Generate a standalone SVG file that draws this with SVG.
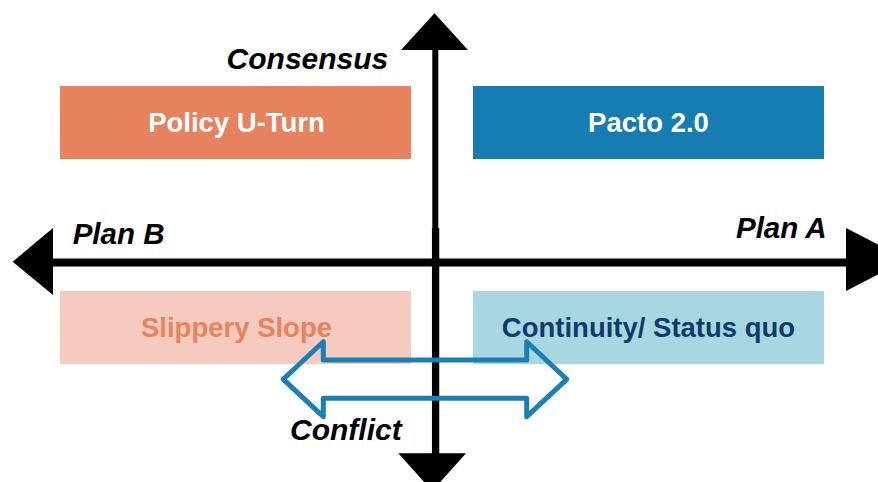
<svg xmlns="http://www.w3.org/2000/svg" width="878" height="482" viewBox="0 0 878 482">
<style>
.lbl{font-family:"Liberation Sans",Arial,sans-serif;font-weight:bold;font-size:27.5px;text-anchor:middle}
.ax{font-family:"Liberation Sans",Arial,sans-serif;font-weight:bold;font-style:italic;font-size:29.5px;fill:#000}
.axis{stroke:#000;fill:none}
.head{fill:#000}
</style>
<rect width="878" height="482" fill="#fff"/>
<g id="node-policy-uturn">
<rect x="60" y="86" width="351" height="73" fill="#E7825F"/>
<text class="lbl" x="236.5" y="132" fill="#fff">Policy U-Turn</text>
</g>
<g id="node-pacto">
<rect x="473" y="86" width="351" height="73" fill="#167DB2"/>
<text class="lbl" x="648.5" y="132" fill="#fff">Pacto 2.0</text>
</g>
<g id="node-slippery">
<rect x="60" y="291" width="351" height="73" fill="#F4CBBE"/>
<text class="lbl" x="236.5" y="337" fill="#E8825F">Slippery Slope</text>
</g>
<g id="node-continuity">
<rect x="473" y="291" width="351" height="73" fill="#A8D7E2"/>
<text class="lbl" x="648.5" y="337" fill="#0E3B6B">Continuity/ Status quo</text>
</g>
<g id="connectors">
<line class="axis" x1="50" y1="262.5" x2="850" y2="262.5" stroke-width="8"/>
<polygon class="head" points="12.7,261.7 53,228 53,295"/>
<polygon class="head" points="846,228 846,291 907,259.5"/>
<line class="axis" x1="435.3" y1="46" x2="435.3" y2="229" stroke-width="6"/>
<line class="axis" x1="435.6" y1="228" x2="435.6" y2="456" stroke-width="7.3"/>
<polygon class="head" points="434.5,13.3 401,50 468,50"/>
<polygon class="head" points="398.3,453.3 466,453.3 432.2,491"/>
<path d="M283.3,379.3 L323.3,341.7 L323.3,360 L526.7,360 L526.7,341.7 L566.7,379.3 L526.7,416.7 L526.7,398.3 L323.3,398.3 L323.3,416.7 Z" fill="none" stroke="#1A7FB5" stroke-width="5" stroke-linejoin="round"/>
</g>
<g id="axis-labels">
<text class="ax" x="388.3" y="69.3" text-anchor="end" style="font-size:30px">Consensus</text>
<text class="ax" x="72.7" y="244.3">Plan B</text>
<text class="ax" x="826.7" y="238.3" text-anchor="end">Plan A</text>
<text class="ax" x="290" y="440" style="font-size:30px">Conflict</text>
</g>
</svg>
